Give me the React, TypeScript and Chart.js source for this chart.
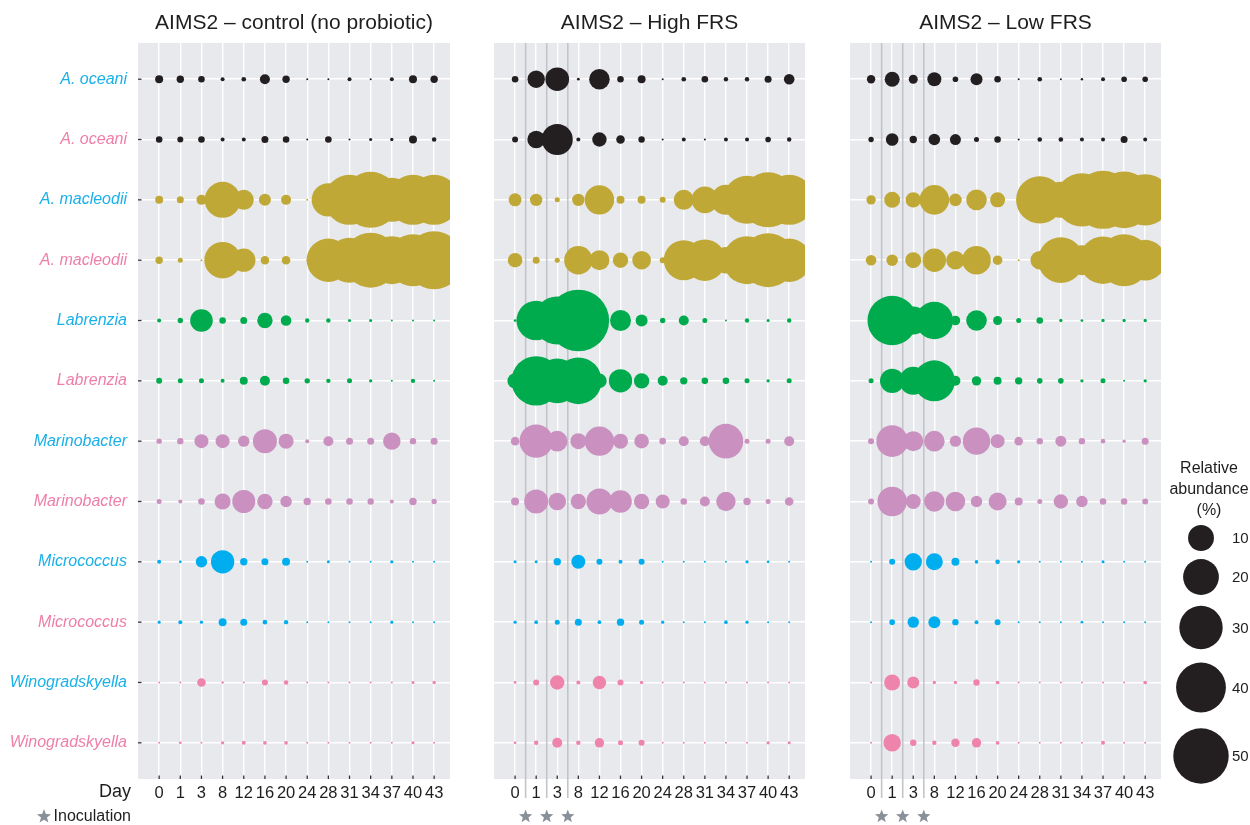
import React, { useEffect, useRef } from "react";
import { Chart, registerables } from "chart.js";

Chart.register(...registerables);

// ---------- data ----------
const days = ["0", "1", "3", "8", "12", "16", "20", "24", "28", "31", "34", "37", "40", "43"];

const taxa = [
  "A. oceani", "A. oceani",
  "A. macleodii", "A. macleodii",
  "Labrenzia", "Labrenzia",
  "Marinobacter", "Marinobacter",
  "Micrococcus", "Micrococcus",
  "Winogradskyella", "Winogradskyella",
];

const taxaLabelColors = [
  "#1ab0e8", "#ee7fa8", "#1ab0e8", "#ee7fa8", "#1ab0e8", "#ee7fa8",
  "#1ab0e8", "#ee7fa8", "#1ab0e8", "#ee7fa8", "#1ab0e8", "#ee7fa8",
];

const rowColors = [
  "#231f20", "#231f20",
  "#bfa836", "#bfa836",
  "#00ab4e", "#00ab4e",
  "#c990c0", "#c990c0",
  "#00aeef", "#00aeef",
  "#ef84aa", "#ef84aa",
];

const panelTitles = ["AIMS2 \u2013 control (no probiotic)", "AIMS2 \u2013 High FRS", "AIMS2 \u2013 Low FRS"];

const legendTitle = ["Relative", "abundance", "(%)"];
const legendValues = [10, 20, 30, 40, 50];

// inoculations fall between the sampled days 0|1, 1|3, 3|8 (x in day-index units)
const inoculationSlots = [0.5, 1.5, 2.5];

// relative abundance (%) per taxon row, per day
const controlValues = [
  [0.63, 0.51, 0.37, 0.07, 0.12, 1.12, 0.51, 0, 0, 0.07, 0, 0.07, 0.63, 0.51],
  [0.37, 0.28, 0.37, 0.07, 0.07, 0.44, 0.37, 0, 0.37, 0, 0.02, 0.03, 0.63, 0.12],
  [0.63, 0.44, 1.12, 20.2, 5.67, 1.75, 1.12, 0, 17.3, 40.3, 51, 30.9, 40.3, 40.3],
  [0.51, 0.16, 0, 20.9, 8.0, 0.76, 0.76, 0, 30, 32.4, 49.1, 37, 43.7, 54.9],
  [0.07, 0.2, 7.42, 0.37, 0.44, 3.14, 1.29, 0.1, 0.1, 0.02, 0.02, 0, 0, 0],
  [0.28, 0.16, 0.16, 0.07, 0.63, 1.12, 0.37, 0.2, 0.1, 0.16, 0.03, 0, 0.1, 0],
  [0.2, 0.34, 2.52, 2.52, 1.55, 8.47, 2.96, 0.07, 1.12, 0.44, 0.44, 4.15, 0.34, 0.44],
  [0.16, 0.07, 0.37, 3.43, 7.72, 3.14, 1.55, 0.51, 0.37, 0.37, 0.34, 0.07, 0.51, 0.2],
  [0.07, 0.01, 1.55, 8.0, 0.51, 0.44, 0.63, 0, 0.02, 0, 0, 0.03, 0, 0],
  [0.02, 0.07, 0.03, 0.63, 0.44, 0.12, 0.1, 0, 0, 0, 0, 0.02, 0, 0],
  [0, 0, 0.76, 0.003, 0, 0.28, 0.12, 0, 0, 0, 0, 0, 0.02, 0.03],
  [0, 0.01, 0, 0.03, 0.07, 0.05, 0.05, 0, 0, 0, 0, 0, 0.02, 0],
];

const highFrsValues = [
  [0.37, 4.15, 8.16, 0.01, 6.05, 0.37, 0.63, 0, 0.12, 0.37, 0.1, 0.1, 0.44, 1.29],
  [0.28, 4.26, 14.71, 0.07, 2.69, 0.76, 0.34, 0, 0.07, 0, 0.07, 0.07, 0.23, 0.1],
  [2.12, 1.89, 0.16, 1.89, 13.14, 0.63, 0.63, 0.28, 5.67, 10.59, 13.72, 37, 49.1, 40.3],
  [2.78, 0.44, 0.16, 12.19, 5.67, 3.14, 4.82, 0.28, 25.3, 27.2, 10.59, 37, 47.3, 30],
  [0.01, 24.5, 37, 62.1, 3.43, 6.32, 1.75, 0.2, 1.12, 0.16, 0, 0.1, 0.02, 0.1],
  [3.14, 39.3, 31.8, 34.8, 2.78, 8.01, 3.14, 1.12, 0.51, 0.37, 0.37, 0.16, 0.03, 0.16],
  [0.76, 17.25, 6.05, 3.43, 13.14, 2.96, 2.78, 0.37, 1.12, 1.12, 18.6, 0.16, 0.16, 1.12],
  [0.63, 8.47, 4.26, 3.14, 10.08, 7.42, 3.14, 2.52, 0.37, 1.12, 5.3, 0.51, 0.16, 0.76],
  [0.02, 0.02, 0.51, 2.52, 0.28, 0.07, 0.28, 0, 0, 0, 0, 0.03, 0.01, 0],
  [0.03, 0.05, 0.16, 0.44, 0.05, 0.51, 0.16, 0.03, 0, 0, 0.05, 0.03, 0, 0],
  [0.01, 0.28, 2.69, 0.07, 2.27, 0.28, 0.03, 0, 0, 0, 0, 0, 0, 0],
  [0.01, 0.1, 1.12, 0.1, 0.96, 0.16, 0.28, 0, 0, 0, 0, 0, 0.03, 0.02],
];

const lowFrsValues = [
  [0.72, 2.96, 0.86, 2.52, 0.23, 1.75, 0.37, 0, 0.12, 0, 0.003, 0.07, 0.23, 0.23],
  [0.2, 1.97, 0.51, 1.61, 1.42, 0.16, 0.37, 0, 0.12, 0.12, 0.07, 0.07, 0.44, 0.07],
  [0.96, 3.43, 3.14, 13.33, 1.97, 6.05, 2.96, 0, 36.1, 20.2, 46.2, 54.9, 52.2, 42.7],
  [1.29, 1.61, 3.43, 8.01, 4.71, 12.38, 1.01, 0, 4.82, 33.3, 13.72, 36.1, 43.7, 26.1],
  [0.07, 39.3, 11.83, 21.9, 1.01, 6.05, 0.86, 0.16, 0.37, 0.03, 0.01, 0.03, 0.03, 0.03],
  [0.16, 8.78, 11.83, 26.6, 1.12, 0.96, 0.63, 0.51, 0.23, 0.23, 0.03, 0.16, 0, 0.03],
  [0.28, 15.33, 5.67, 6.05, 1.55, 11.29, 2.52, 0.76, 0.34, 1.42, 0.34, 0.12, 0.03, 0.44],
  [0.28, 13.14, 2.96, 5.92, 5.42, 1.55, 4.48, 0.63, 0.16, 2.69, 1.55, 0.37, 0.37, 0.28],
  [0, 0.28, 4.15, 3.94, 0.63, 0.05, 0.12, 0.03, 0, 0, 0, 0.02, 0, 0],
  [0, 0.23, 1.55, 1.75, 0.34, 0.07, 0.28, 0, 0, 0, 0.01, 0, 0, 0],
  [0, 3.43, 1.75, 0.03, 0.03, 0.34, 0.05, 0, 0, 0, 0, 0, 0, 0.05],
  [0, 4.26, 0.34, 0.1, 0.72, 0.96, 0.05, 0, 0, 0, 0, 0.07, 0, 0],
];

// ---------- styling ----------
const FONT = "'Liberation Sans', Arial, Helvetica, sans-serif";
const PANEL_BG = "#e8e9ed";
const TEXT = "#1e1e1e";
const H = 825;

// area-style size scale (ggplot-like): radius grows with sqrt(value)
const radiusFor = (v: number) => 1 + 3.78 * Math.sqrt(Math.max(0, v));

function drawStar(ctx: CanvasRenderingContext2D, cx: number, cy: number, R: number, color: string) {
  const r = R * 0.42;
  ctx.beginPath();
  for (let i = 0; i < 10; i++) {
    const ang = -Math.PI / 2 + (i * Math.PI) / 5;
    const rad = i % 2 === 0 ? R : r;
    const x = cx + rad * Math.cos(ang);
    const y = cy + rad * Math.sin(ang);
    if (i === 0) ctx.moveTo(x, y);
    else ctx.lineTo(x, y);
  }
  ctx.closePath();
  ctx.fillStyle = color;
  ctx.fill();
}

type PanelCfg = {
  key: string;
  left: number;
  width: number;
  padLeft: number;
  padRight: number;
  title: string;
  values: number[][];
  showY: boolean;
  inoculation: boolean;
  legend: boolean;
};

const panels: PanelCfg[] = [
  { key: "ctrl", left: 0, width: 465, padLeft: 0, padRight: 15, title: panelTitles[0], values: controlValues, showY: true, inoculation: false, legend: false },
  { key: "high", left: 470, width: 350, padLeft: 24, padRight: 15, title: panelTitles[1], values: highFrsValues, showY: false, inoculation: true, legend: false },
  { key: "low", left: 830, width: 420, padLeft: 20, padRight: 89, title: panelTitles[2], values: lowFrsValues, showY: false, inoculation: true, legend: true },
];

function makePlugin(p: PanelCfg) {
  return {
    id: "decor_" + p.key,
    beforeDraw(chart: any) {
      const { ctx, chartArea: a } = chart;
      ctx.save();
      ctx.fillStyle = PANEL_BG;
      ctx.fillRect(a.left, a.top, a.right - a.left, a.bottom - a.top);
      ctx.restore();
    },
    beforeDatasetsDraw(chart: any) {
      if (!p.inoculation) return;
      const { ctx, chartArea: a } = chart;
      const xs = chart.scales.x;
      ctx.save();
      ctx.strokeStyle = "#c3c4c9";
      ctx.lineWidth = 1.6;
      inoculationSlots.forEach((s) => {
        const px = xs.getPixelForValue(s);
        ctx.beginPath();
        ctx.moveTo(px, a.top);
        ctx.lineTo(px, a.bottom + 19);
        ctx.stroke();
        drawStar(ctx, px, a.bottom + 37.5, 7, "#8a9099");
      });
      ctx.restore();
    },
    afterDatasetsDraw(chart: any) {
      const { ctx, chartArea: a } = chart;
      const xs = chart.scales.x;
      const ys = chart.scales.y;
      ctx.save();
      ctx.strokeStyle = "#333333";
      ctx.lineWidth = 1.3;
      days.forEach((_, i) => {
        const px = xs.getPixelForValue(i);
        ctx.beginPath();
        ctx.moveTo(px, a.bottom - 3.5);
        ctx.lineTo(px, a.bottom);
        ctx.stroke();
      });
      if (p.showY) {
        taxa.forEach((_, i) => {
          const py = ys.getPixelForValue(i);
          ctx.beginPath();
          ctx.moveTo(a.left, py);
          ctx.lineTo(a.left + 3.5, py);
          ctx.stroke();
        });
      }
      ctx.restore();
    },
    afterDraw(chart: any) {
      const { ctx, chartArea: a } = chart;
      ctx.save();
      if (p.showY) {
        ctx.fillStyle = TEXT;
        ctx.textAlign = "right";
        ctx.textBaseline = "middle";
        ctx.font = `18px ${FONT}`;
        ctx.fillText("Day", 131, a.bottom + 13);
        ctx.font = `16px ${FONT}`;
        ctx.fillText("Inoculation", 131, a.bottom + 38);
        drawStar(ctx, 44, a.bottom + 37.5, 7.5, "#8a9099");
      }
      if (p.legend) {
        const off = p.left;
        ctx.fillStyle = TEXT;
        ctx.textAlign = "center";
        ctx.textBaseline = "middle";
        ctx.font = `16px ${FONT}`;
        legendTitle.forEach((t, i) => ctx.fillText(t, 1209 - off, 469 + i * 20.7));
        const centers = [538, 577, 627.5, 687.5, 756];
        ctx.font = `15px ${FONT}`;
        ctx.textAlign = "left";
        legendValues.forEach((v, i) => {
          ctx.beginPath();
          ctx.arc(1201 - off, centers[i], radiusFor(v), 0, Math.PI * 2);
          ctx.fillStyle = "#231f20";
          ctx.fill();
          ctx.fillStyle = TEXT;
          ctx.fillText(String(v), 1232 - off, centers[i] + 1);
        });
      }
      ctx.restore();
    },
  };
}

function buildConfig(p: PanelCfg): any {
  const datasets = p.values.map((row, ri) => ({
    label: taxa[ri],
    data: row.map((v, di) => ({ x: di, y: ri, r: radiusFor(v), v })),
    backgroundColor: rowColors[ri],
    borderWidth: 0,
    hoverRadius: 0,
    hoverBorderWidth: 0,
    clip: 0,
  }));
  return {
    type: "bubble",
    data: { datasets },
    plugins: [makePlugin(p)],
    options: {
      responsive: false,
      animation: false,
      events: [],
      layout: { autoPadding: false, padding: { left: p.padLeft, right: p.padRight, top: 0, bottom: 0 } },
      plugins: {
        legend: { display: false },
        tooltip: { enabled: false },
        title: {
          display: true,
          text: p.title,
          fullSize: false,
          color: TEXT,
          font: { size: 21, weight: "normal", family: FONT, lineHeight: 1.2 },
          padding: { top: 10.7, bottom: 7.1 },
        },
      },
      scales: {
        x: {
          type: "linear",
          min: -1,
          max: 13.75,
          afterBuildTicks: (scale: any) => {
            scale.ticks = days.map((_, i) => ({ value: i }));
          },
          afterFit: (scale: any) => {
            scale.height = 46;
            scale.paddingLeft = 0;
            scale.paddingRight = 0;
          },
          ticks: {
            autoSkip: false,
            maxRotation: 0,
            minRotation: 0,
            padding: 5,
            color: TEXT,
            font: { size: 16.5, family: FONT },
            callback: (value: number) => days[value] ?? "",
          },
          grid: { color: "#ffffff", lineWidth: 1.4, drawTicks: false },
          border: { display: false },
        },
        y: {
          type: "linear",
          reverse: true,
          min: -0.6,
          max: 11.6,
          afterBuildTicks: (scale: any) => {
            scale.ticks = taxa.map((_, i) => ({ value: i }));
          },
          afterFit: (scale: any) => {
            scale.width = p.showY ? 138 : 0;
            scale.paddingTop = 0;
            scale.paddingBottom = 0;
          },
          ticks: {
            display: p.showY,
            padding: 11,
            color: (ctx: any) => taxaLabelColors[ctx.index] ?? TEXT,
            font: { size: 16, style: "italic", family: FONT },
            callback: (value: number) => taxa[value] ?? "",
          },
          grid: { color: "#ffffff", lineWidth: 1.4, drawTicks: false },
          border: { display: false },
        },
      },
    },
  };
}

function Panel({ cfg }: { cfg: PanelCfg }) {
  const ref = useRef<HTMLCanvasElement | null>(null);
  useEffect(() => {
    if (!ref.current) return;
    const chart = new Chart(ref.current, buildConfig(cfg));
    return () => chart.destroy();
  }, [cfg]);
  return (
    <canvas
      ref={ref}
      width={cfg.width}
      height={H}
      style={{ position: "absolute", left: cfg.left, top: 0, width: cfg.width, height: H }}
    />
  );
}

export default function App() {
  return (
    <div style={{ position: "absolute", left: 0, top: 0, width: 1250, height: H, background: "#ffffff", overflow: "hidden" }}>
      {panels.map((p) => (
        <Panel key={p.key} cfg={p} />
      ))}
    </div>
  );
}
